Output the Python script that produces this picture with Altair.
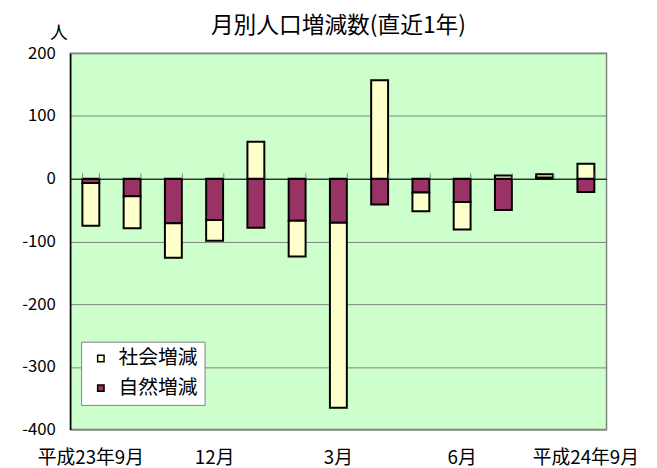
import json
import altair as alt
import pandas as pd

months = ["平成23年9月", "10月", "11月", "12月", "1月", "2月", "3月",
          "4月", "5月", "6月", "7月", "8月", "平成24年9月"]
social = [-68, -51, -55, -33, 59, -57, -295, 157, -30, -44, 5, 5, 24]
natural = [-7, -28, -71, -66, -78, -67, -70, -41, -22, -37, -50, 2, -21]
shown_labels = ["平成23年9月", "12月", "3月", "6月", "平成24年9月"]
series = ["社会増減", "自然増減"]
colors = ["#FFFFCC", "#993366"]
y_ticks = [-400, -300, -200, -100, 0, 100, 200]

rows = []
for i, m in enumerate(months):
    rows.append({"month": m, "kind": "自然増減", "value": natural[i], "ord": 0})
    rows.append({"month": m, "kind": "社会増減", "value": social[i], "ord": 1})
df = pd.DataFrame(rows)

W, H = 543, 381
FONT = "Noto Sans CJK JP"
xscale = alt.Scale(domain=months, paddingInner=0.59, paddingOuter=0.295)
yscale = alt.Scale(domain=[-400, 200], nice=False, zero=False)
label_expr = "indexof(" + json.dumps(shown_labels, ensure_ascii=False) + ", datum.value) >= 0 ? datum.value : ''"

bars = alt.Chart(df).mark_bar(stroke="black", strokeWidth=2).encode(
    x=alt.X("month:N", scale=xscale, sort=months,
            axis=alt.Axis(orient="bottom", title=None, domain=False, ticks=False,
                          labelAngle=0, labelExpr=label_expr, labelFont=FONT,
                          labelFontSize=19, labelPadding=19, labelColor="black",
                          grid=False)),
    y=alt.Y("value:Q", stack="zero", scale=yscale,
            axis=alt.Axis(values=y_ticks, title="人", titleAngle=0, titleX=-12,
                          titleY=-20, titleAlign="center", titleBaseline="middle",
                          titleFont=FONT, titleFontSize=18, titleFontWeight="normal",
                          titleColor="black",
                          labelFont=FONT, labelFontSize=17, labelPadding=15,
                          labelColor="black", ticks=False, domainColor="black",
                          domainWidth=1.5, gridColor="#808080", gridWidth=1,
                          labelExpr="datum.value")),
    color=alt.Color("kind:N", scale=alt.Scale(domain=series, range=colors),
                    legend=alt.Legend(title=None, orient="none", legendX=11, legendY=292,
                                      fillColor="white", strokeColor="#808080",
                                      padding=7, rowPadding=10, symbolType="square",
                                      symbolSize=42, symbolStrokeColor="black",
                                      symbolStrokeWidth=1.5, labelFont=FONT,
                                      labelFontSize=20, labelOffset=8,
                                      symbolOffset=3, labelColor="black")),
    order=alt.Order("ord:Q"),
)

zero_axis = alt.Chart(df).mark_bar(opacity=0).encode(
    x=alt.X("month:N", scale=xscale, sort=months,
            axis=alt.Axis(orient="top", offset=-127, title=None, labels=False,
                          domainColor="black", domainWidth=1, ticks=True,
                          tickBand="extent", tickColor="#808080", tickSize=6,
                          grid=False, zindex=1)),
)

chart = alt.layer(bars, zero_axis).resolve_axis(x="independent").properties(
    width=W, height=H,
    autosize=alt.AutoSizeParams(type="none"),
    padding={"left": 63, "top": 43, "right": 43, "bottom": 36},
    title=alt.TitleParams("月別人口増減数(直近1年)", font=FONT, fontSize=23,
                          fontWeight="normal", anchor="middle", color="black",
                          dy=17),
).configure_view(fill="#CCFFCC", stroke="#808080", strokeWidth=1.5)

chart.save("out.html", embed_options={"renderer": "svg", "actions": False})
